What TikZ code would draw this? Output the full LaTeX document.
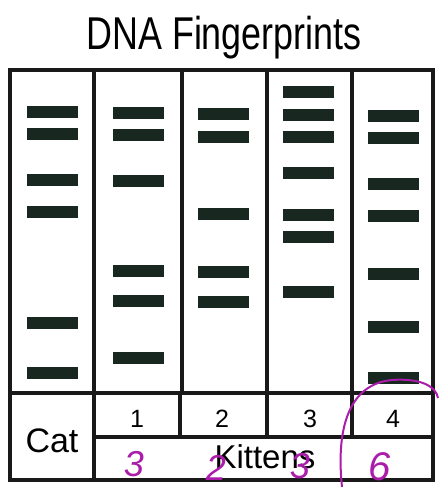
\documentclass[tikz,border=0pt]{standalone}
\usepackage{fontspec}
\setmainfont{Liberation Sans}
\newfontfamily\titlefont[FakeStretch=0.78]{Liberation Sans}
\usetikzlibrary{positioning}

\definecolor{bandgreen}{RGB}{24,40,32}
\definecolor{penpurple}{RGB}{170,28,170}

\begin{document}
\begin{tikzpicture}[x=1pt, y=-1pt,
      frame/.style={draw=black!90, line width=3.8pt},
      rule/.style={draw=black!90, line width=3.1pt},
      band/.style={fill=bandgreen},
      label/.style={anchor=base, inner sep=0pt},
      pen/.style={text=penpurple, font=\itshape\fontsize{36}{36}\selectfont, anchor=base, inner sep=0pt}]
    \useasboundingbox (0,0) rectangle (441,487);
    \node[label, font=\titlefont\fontsize{46}{46}\selectfont] (title) at (224,50) {DNA Fingerprints};

    % lanes and bands
    \foreach \cx/\ys in {52/{112,134,180,212,323,373},
                         138/{113,135,181,271,301,358},
                         223/{114,137,214,272,302},
                         308/{92,115,137,173,215,237,292},
                         393/{116,138,184,216,274,327,378}}
      \foreach \y in \ys
        \fill[band] (\cx-25.5,\y-6) rectangle (\cx+25.5,\y+6);
    \foreach \x in {94,182,267,352}
      \draw[rule] (\x,70) -- (\x,393);

    % label rows
    \draw[rule] (10,393) -- (433,393);
    \draw[rule] (94,437) -- (433,437);
    \draw[rule] (94,393) -- (94,480);
    \foreach \x in {180,267,352}
      \draw[rule] (\x,393) -- (\x,437);
    \draw[frame] (10,70) rectangle (433,480);

    \node[label, font=\fontsize{34}{34}\selectfont] (cat) at (52,452) {Cat};
    \foreach \n/\x in {1/137,2/222,3/310,4/393}
      \node[label, font=\fontsize{25}{25}\selectfont] (k\n) at (\x,427) {\n};
    \node[label, font=\fontsize{33}{33}\selectfont] (kittens) at (265,468) {Kittens};

    % pen marks
    \node[pen] (m1) at (134,476) {3};
    \node[pen] (m2) at (216,480) {2};
    \node[pen] (m3) at (300,478) {3};
    \node[pen, font=\itshape\fontsize{40}{40}\selectfont] (m4) at (380,480) {6};
    \draw[penpurple, line width=2pt]
      (342,487) .. controls (336,430) and (348,384) .. (392,380)
                .. controls (420,378) and (436,386) .. (438,398);
  \end{tikzpicture}
\end{document}
